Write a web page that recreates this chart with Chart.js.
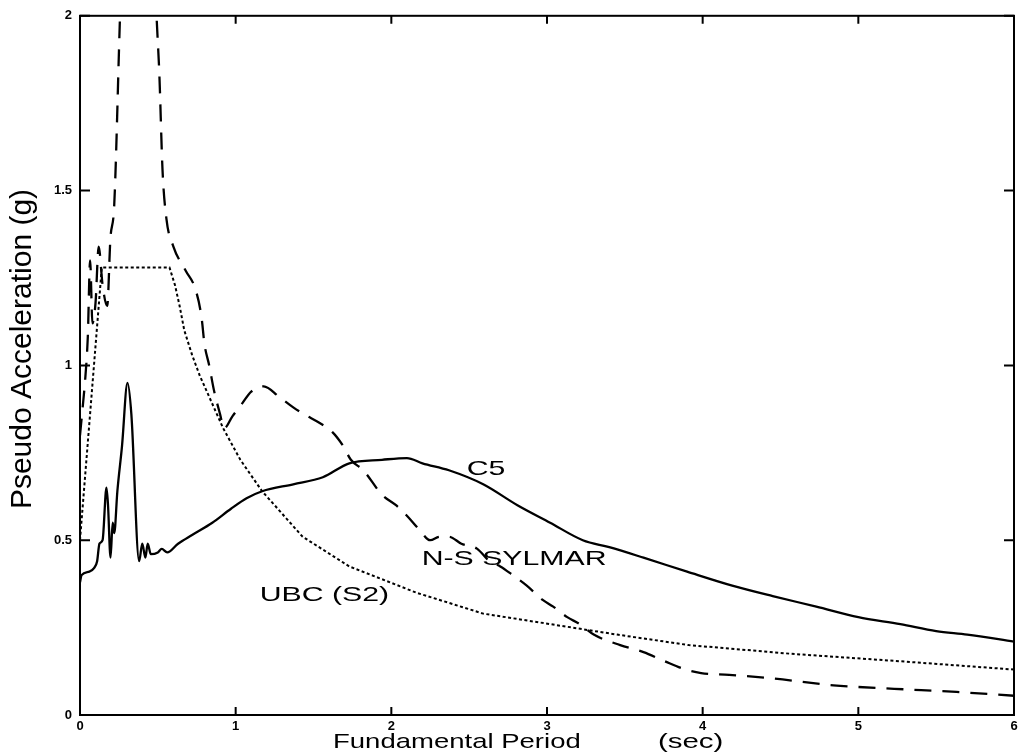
<!DOCTYPE html>
<html>
<head>
<meta charset="utf-8">
<script src="https://cdn.jsdelivr.net/npm/chart.js@4.4.0/dist/chart.umd.min.js"></script>
<style>
  html, body { margin: 0; padding: 0; background: #fff; }
  #wrap { width: 1025px; height: 754px; position: relative; }
</style>
</head>
<body>
<div id="wrap"><canvas id="chart"></canvas></div>
<script>
// C5 record (solid)
const c5T = [0, 0.01, 0.06, 0.09, 0.11, 0.125, 0.145, 0.17, 0.18, 0.196, 0.21, 0.22, 0.24, 0.27, 0.305, 0.33,
  0.38, 0.40, 0.42, 0.435, 0.455, 0.50, 0.525, 0.56, 0.63, 0.72, 0.85, 0.97, 1.07, 1.17, 1.37, 1.56, 1.73,
  1.94, 2.10, 2.20, 2.37, 2.59, 2.81, 3.02, 3.23, 3.40, 3.62, 3.90, 4.19, 4.45, 4.73, 5.00, 5.27, 5.50, 5.70, 6.00];
const c5A = [0.38, 0.40, 0.41, 0.42, 0.44, 0.49, 0.50, 0.65, 0.60, 0.45, 0.55, 0.52, 0.64, 0.77, 0.95, 0.86,
  0.44, 0.49, 0.45, 0.49, 0.46, 0.465, 0.475, 0.465, 0.49, 0.515, 0.55, 0.59, 0.62, 0.64, 0.66, 0.68, 0.72,
  0.73, 0.735, 0.72, 0.70, 0.66, 0.60, 0.55, 0.50, 0.48, 0.45, 0.41, 0.37, 0.34, 0.31, 0.28, 0.26, 0.24, 0.23, 0.21];

// N-S Sylmar record (dashed), peak runs off the top of the frame
const sylT = [0, 0.015, 0.035, 0.05, 0.065, 0.08, 0.10, 0.12, 0.145, 0.175, 0.195, 0.22, 0.255, 0.30, 0.40, 0.47,
  0.49, 0.51, 0.53, 0.555, 0.60, 0.68, 0.74, 0.78, 0.80, 0.83, 0.86, 0.90, 0.925, 0.98, 1.04, 1.10, 1.18, 1.28,
  1.37, 1.44, 1.54, 1.62, 1.69, 1.74, 1.82, 1.94, 2.03, 2.10, 2.18, 2.25, 2.31, 2.37, 2.45, 2.55, 2.63, 2.70,
  2.78, 2.87, 2.97, 3.04, 3.13, 3.21, 3.30, 3.47, 3.62, 3.75, 3.89, 3.99, 4.17, 4.44, 4.84, 5.23, 5.63, 6.00];
const sylA = [0.80, 0.87, 0.97, 1.08, 1.30, 1.12, 1.18, 1.34, 1.23, 1.17, 1.36, 1.46, 1.97, 2.6, 3.2, 2.3,
  2.02, 1.83, 1.56, 1.42, 1.34, 1.27, 1.22, 1.14, 1.06, 1.00, 0.93, 0.86, 0.82, 0.855, 0.89, 0.925, 0.94, 0.91,
  0.88, 0.86, 0.835, 0.81, 0.77, 0.73, 0.70, 0.63, 0.60, 0.57, 0.53, 0.50, 0.51, 0.51, 0.49, 0.476, 0.44, 0.425,
  0.40, 0.37, 0.33, 0.31, 0.28, 0.26, 0.23, 0.20, 0.18, 0.155, 0.13, 0.12, 0.115, 0.105, 0.085, 0.075, 0.066, 0.055];

// UBC (S2) design spectrum (dotted)
const ubcT = [0, 0.14, 0.575, 0.61, 0.64, 0.67, 0.72, 0.77, 0.81, 0.92, 1.03, 1.17, 1.43, 1.73, 2.16, 2.59,
  3.02, 3.45, 3.91, 4.57, 5.23, 6.00];
const ubcA = [0.50, 1.28, 1.28, 1.23, 1.17, 1.10, 1.03, 0.97, 0.93, 0.82, 0.73, 0.64, 0.51, 0.425, 0.35, 0.29,
  0.26, 0.23, 0.20, 0.175, 0.155, 0.13];

const xTicks = [0, 1, 2, 3, 4, 5, 6];
const yTicks = [0, 0.5, 1, 1.5, 2];

const curveNames = ['C5', 'N-S SYLMAR', 'UBC (S2)'];
const nameT = [2.484, 2.195, 1.154];
const nameA = [0.686, 0.428, 0.326];

const pts = (t, a) => t.map((v, i) => ({ x: v, y: a[i] }));

const framePlugin = {
  id: 'framePlugin',
  afterDraw(chart) {
    const { ctx, chartArea: ca, scales } = chart;
    const xs = scales.x, ys = scales.y;
    ctx.save();
    ctx.strokeStyle = '#000';
    ctx.lineWidth = 2;
    ctx.strokeRect(ca.left, ca.top, ca.right - ca.left, ca.bottom - ca.top);
    ctx.beginPath();
    xTicks.forEach(v => {
      const px = xs.getPixelForValue(v);
      ctx.moveTo(px, ca.bottom); ctx.lineTo(px, ca.bottom - 8);
      ctx.moveTo(px, ca.top); ctx.lineTo(px, ca.top + 8);
    });
    yTicks.forEach(v => {
      const py = ys.getPixelForValue(v);
      ctx.moveTo(ca.left, py); ctx.lineTo(ca.left + 10, py);
      ctx.moveTo(ca.right, py); ctx.lineTo(ca.right - 10, py);
    });
    ctx.stroke();

    ctx.fillStyle = '#000';
    ctx.textAlign = 'left';
    ctx.textBaseline = 'alphabetic';
    // curve names, stretched wide like the scan
    ctx.font = '21px "Liberation Sans", Arial, sans-serif';
    curveNames.forEach((s, i) => {
      ctx.save();
      ctx.translate(xs.getPixelForValue(nameT[i]), ys.getPixelForValue(nameA[i]));
      ctx.scale(1.44, 1);
      ctx.fillText(s, 0, 0);
      ctx.restore();
    });

    // x axis title
    ctx.save();
    ctx.translate(333, 748);
    ctx.scale(1.31, 1);
    ctx.fillText('Fundamental Period', 0, 0);
    ctx.restore();
    ctx.save();
    ctx.translate(658, 748);
    ctx.scale(1.4, 1);
    ctx.fillText('(sec)', 0, 0);
    ctx.restore();

    // y axis title
    ctx.save();
    ctx.translate(31, 349);
    ctx.rotate(-Math.PI / 2);
    ctx.textAlign = 'center';
    ctx.font = '30px "Liberation Sans", Arial, sans-serif';
    ctx.fillText('Pseudo Acceleration (g)', 0, 0);
    ctx.restore();
    ctx.restore();
  }
};

new Chart(document.getElementById('chart'), {
  type: 'line',
  data: {
    datasets: [
      { label: 'C5', data: pts(c5T, c5A), borderColor: '#000', borderWidth: 2.3,
        pointRadius: 0, cubicInterpolationMode: 'monotone', clip: 0 },
      { label: 'N-S SYLMAR', data: pts(sylT, sylA), borderColor: '#000', borderWidth: 2.3,
        borderDash: [17, 11], pointRadius: 0, cubicInterpolationMode: 'monotone', clip: 0 },
      { label: 'UBC (S2)', data: pts(ubcT, ubcA), borderColor: '#000', borderWidth: 2,
        borderDash: [3, 2.5], pointRadius: 0, tension: 0, clip: 0 }
    ]
  },
  options: {
    responsive: true,
    maintainAspectRatio: false,
    animation: false,
    layout: { padding: { top: 9, right: 11, left: 0, bottom: 0 } },
    plugins: { legend: { display: false }, tooltip: { enabled: false } },
    scales: {
      x: {
        type: 'linear', min: 0, max: 6,
        grid: { display: false, drawTicks: false },
        border: { display: false },
        ticks: { stepSize: 1, padding: 4, color: '#000',
          font: { family: 'Liberation Sans, Arial, sans-serif', size: 13, weight: 'bold' } },
        afterFit: s => { s.height = 39; }
      },
      y: {
        min: 0, max: 2,
        grid: { display: false, drawTicks: false },
        border: { display: false },
        ticks: { stepSize: 0.5, padding: 8, color: '#000',
          font: { family: 'Liberation Sans, Arial, sans-serif', size: 13, weight: 'bold' },
          callback: v => String(v) },
        afterFit: s => { s.width = 80; }
      }
    }
  },
  plugins: [framePlugin]
});
</script>
</body>
</html>
